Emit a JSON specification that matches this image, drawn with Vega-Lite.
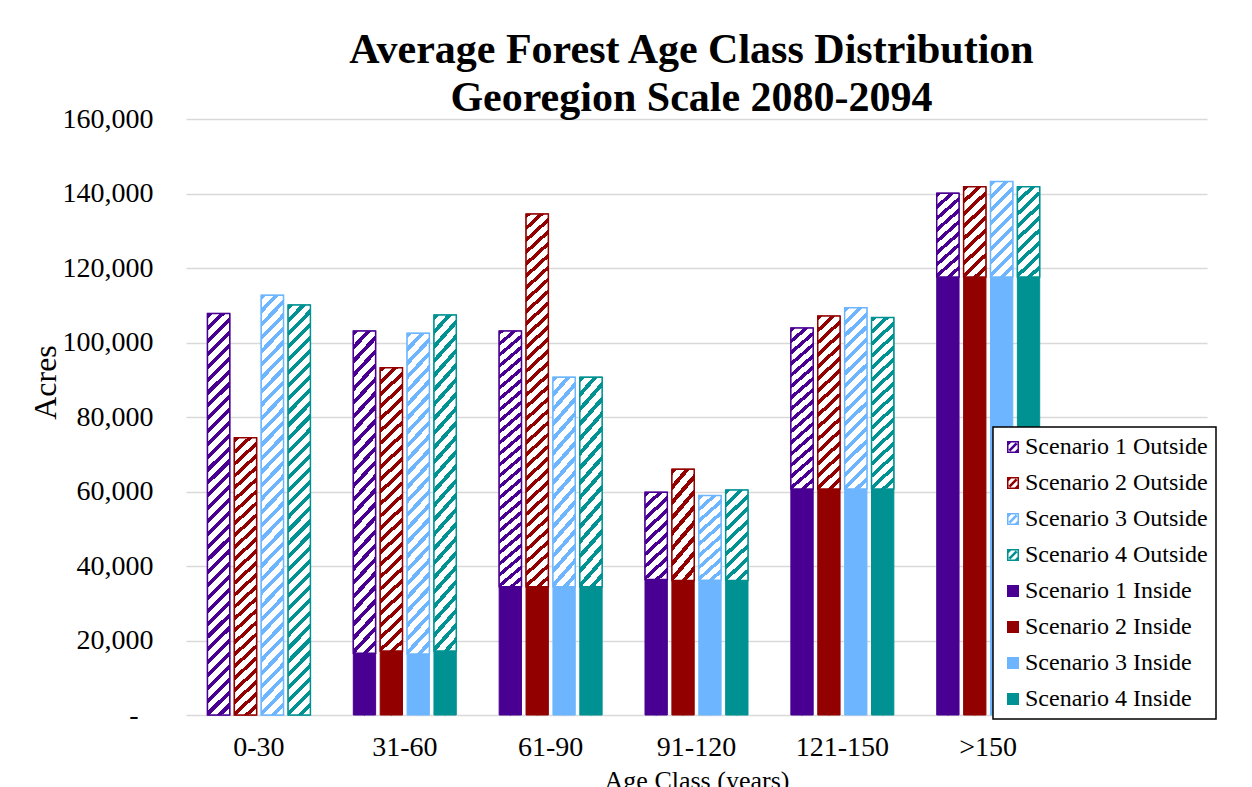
{
"$schema": "https://vega.github.io/schema/vega-lite/v6.json",
"autosize": "none",
"width": 1021,
"height": 596,
"padding": {"left": 186, "top": 119, "right": 45, "bottom": 72},
"background": "white",
"title": {"text": ["Average Forest Age Class Distribution", "Georegion Scale 2080-2094"], "font": "Liberation Serif", "fontSize": 42, "fontWeight": "bold", "lineHeight": 48, "color": "#000", "anchor": "middle", "frame": "group", "baseline": "alphabetic", "offset": 10, "dx": -5, "dy": 58},
"data": {"values": [
{"age": "0-30", "scenario": "Scenario 1", "part": "Outside", "series": "Scenario 1 Outside", "acres": 107800},
{"age": "0-30", "scenario": "Scenario 2", "part": "Outside", "series": "Scenario 2 Outside", "acres": 74400},
{"age": "0-30", "scenario": "Scenario 3", "part": "Outside", "series": "Scenario 3 Outside", "acres": 112700},
{"age": "0-30", "scenario": "Scenario 4", "part": "Outside", "series": "Scenario 4 Outside", "acres": 110100},
{"age": "31-60", "scenario": "Scenario 1", "part": "Inside", "series": "Scenario 1 Inside", "acres": 16600},
{"age": "31-60", "scenario": "Scenario 2", "part": "Inside", "series": "Scenario 2 Inside", "acres": 17200},
{"age": "31-60", "scenario": "Scenario 3", "part": "Inside", "series": "Scenario 3 Inside", "acres": 16400},
{"age": "31-60", "scenario": "Scenario 4", "part": "Inside", "series": "Scenario 4 Inside", "acres": 17200},
{"age": "31-60", "scenario": "Scenario 1", "part": "Outside", "series": "Scenario 1 Outside", "acres": 86500},
{"age": "31-60", "scenario": "Scenario 2", "part": "Outside", "series": "Scenario 2 Outside", "acres": 76000},
{"age": "31-60", "scenario": "Scenario 3", "part": "Outside", "series": "Scenario 3 Outside", "acres": 86100},
{"age": "31-60", "scenario": "Scenario 4", "part": "Outside", "series": "Scenario 4 Outside", "acres": 90200},
{"age": "61-90", "scenario": "Scenario 1", "part": "Inside", "series": "Scenario 1 Inside", "acres": 34400},
{"age": "61-90", "scenario": "Scenario 2", "part": "Inside", "series": "Scenario 2 Inside", "acres": 34400},
{"age": "61-90", "scenario": "Scenario 3", "part": "Inside", "series": "Scenario 3 Inside", "acres": 34400},
{"age": "61-90", "scenario": "Scenario 4", "part": "Inside", "series": "Scenario 4 Inside", "acres": 34400},
{"age": "61-90", "scenario": "Scenario 1", "part": "Outside", "series": "Scenario 1 Outside", "acres": 68700},
{"age": "61-90", "scenario": "Scenario 2", "part": "Outside", "series": "Scenario 2 Outside", "acres": 100100},
{"age": "61-90", "scenario": "Scenario 3", "part": "Outside", "series": "Scenario 3 Outside", "acres": 56300},
{"age": "61-90", "scenario": "Scenario 4", "part": "Outside", "series": "Scenario 4 Outside", "acres": 56300},
{"age": "91-120", "scenario": "Scenario 1", "part": "Inside", "series": "Scenario 1 Inside", "acres": 36400},
{"age": "91-120", "scenario": "Scenario 2", "part": "Inside", "series": "Scenario 2 Inside", "acres": 36100},
{"age": "91-120", "scenario": "Scenario 3", "part": "Inside", "series": "Scenario 3 Inside", "acres": 36200},
{"age": "91-120", "scenario": "Scenario 4", "part": "Inside", "series": "Scenario 4 Inside", "acres": 36100},
{"age": "91-120", "scenario": "Scenario 1", "part": "Outside", "series": "Scenario 1 Outside", "acres": 23400},
{"age": "91-120", "scenario": "Scenario 2", "part": "Outside", "series": "Scenario 2 Outside", "acres": 29900},
{"age": "91-120", "scenario": "Scenario 3", "part": "Outside", "series": "Scenario 3 Outside", "acres": 22700},
{"age": "91-120", "scenario": "Scenario 4", "part": "Outside", "series": "Scenario 4 Outside", "acres": 24300},
{"age": "121-150", "scenario": "Scenario 1", "part": "Inside", "series": "Scenario 1 Inside", "acres": 60700},
{"age": "121-150", "scenario": "Scenario 2", "part": "Inside", "series": "Scenario 2 Inside", "acres": 60700},
{"age": "121-150", "scenario": "Scenario 3", "part": "Inside", "series": "Scenario 3 Inside", "acres": 60700},
{"age": "121-150", "scenario": "Scenario 4", "part": "Inside", "series": "Scenario 4 Inside", "acres": 60700},
{"age": "121-150", "scenario": "Scenario 1", "part": "Outside", "series": "Scenario 1 Outside", "acres": 43200},
{"age": "121-150", "scenario": "Scenario 2", "part": "Outside", "series": "Scenario 2 Outside", "acres": 46400},
{"age": "121-150", "scenario": "Scenario 3", "part": "Outside", "series": "Scenario 3 Outside", "acres": 48600},
{"age": "121-150", "scenario": "Scenario 4", "part": "Outside", "series": "Scenario 4 Outside", "acres": 46000},
{"age": ">150", "scenario": "Scenario 1", "part": "Inside", "series": "Scenario 1 Inside", "acres": 117600},
{"age": ">150", "scenario": "Scenario 2", "part": "Inside", "series": "Scenario 2 Inside", "acres": 117600},
{"age": ">150", "scenario": "Scenario 3", "part": "Inside", "series": "Scenario 3 Inside", "acres": 117600},
{"age": ">150", "scenario": "Scenario 4", "part": "Inside", "series": "Scenario 4 Inside", "acres": 117600},
{"age": ">150", "scenario": "Scenario 1", "part": "Outside", "series": "Scenario 1 Outside", "acres": 22500},
{"age": ">150", "scenario": "Scenario 2", "part": "Outside", "series": "Scenario 2 Outside", "acres": 24200},
{"age": ">150", "scenario": "Scenario 3", "part": "Outside", "series": "Scenario 3 Outside", "acres": 25600},
{"age": ">150", "scenario": "Scenario 4", "part": "Outside", "series": "Scenario 4 Outside", "acres": 24200}
]},
"transform": [
{"stack": "acres", "groupby": ["age", "scenario"], "sort": [{"field": "part", "order": "ascending"}], "as": ["y0", "y1"]}
],
"encoding": {
"x": {"field": "age", "type": "nominal", "sort": null,
 "scale": {"domain": ["0-30", "31-60", "61-90", "91-120", "121-150", ">150", ""], "paddingInner": 0.294, "paddingOuter": 0.147},
 "axis": {"title": "Age Class (years)", "labelAngle": 0, "ticks": false, "domain": false, "grid": false, "labelFont": "Liberation Serif", "labelFontSize": 28, "labelColor": "#000", "labelPadding": 18, "titleFont": "Liberation Serif", "titleFontSize": 26, "titleFontWeight": "normal", "titleColor": "#000", "titlePadding": 6}},
"xOffset": {"field": "scenario", "type": "nominal", "scale": {"domain": ["Scenario 1", "Scenario 2", "Scenario 3", "Scenario 4"], "paddingInner": 0.17, "paddingOuter": 0}},
"y": {"field": "y0", "type": "quantitative",
 "scale": {"domain": [0, 160000], "nice": false},
 "axis": {"title": "Acres", "values": [0, 20000, 40000, 60000, 80000, 100000, 120000, 140000, 160000], "labelExpr": "datum.value === 0 ? '-' : format(datum.value, ',')", "ticks": false, "domain": false, "grid": true, "gridColor": "#d9d9d9", "gridWidth": 1.5, "labelFont": "Liberation Serif", "labelFontSize": 28, "labelColor": "#000", "labelPadding": {"condition": {"test": "datum.value === 0", "value": 48}, "value": 33}, "titleFont": "Liberation Serif", "titleFontSize": 32, "titleFontWeight": "normal", "titleColor": "#000", "titleAngle": 270, "titleAlign": "center", "titleBaseline": "alphabetic", "titleX": -131, "titleY": 263}}
},
"layer": [
{"mark": {"type": "point", "filled": true, "size": 1, "opacity": 1, "strokeWidth": 0},
 "encoding": {
  "color": {"field": "series", "type": "nominal", "legend": {"title": null}},
  "shape": {"field": "series", "type": "nominal",
   "scale": {"domain": ["Scenario 1 Outside", "Scenario 2 Outside", "Scenario 3 Outside", "Scenario 4 Outside", "Scenario 1 Inside", "Scenario 2 Inside", "Scenario 3 Inside", "Scenario 4 Inside"],
    "range": ["M-1,-1H1V1H-1Z M-0.75,-0.75V0.75H0.75V-0.75Z M-0.75,0.45L0.45,-0.75L0.75,-0.45L-0.45,0.75Z M-0.75,-0.75L-0.3,-0.75L-0.75,-0.3Z M0.75,0.75L0.3,0.75L0.75,0.3Z",
     "M-1,-1H1V1H-1Z M-0.75,-0.75V0.75H0.75V-0.75Z M-0.75,0.45L0.45,-0.75L0.75,-0.45L-0.45,0.75Z M-0.75,-0.75L-0.3,-0.75L-0.75,-0.3Z M0.75,0.75L0.3,0.75L0.75,0.3Z",
     "M-1,-1H1V1H-1Z M-0.75,-0.75V0.75H0.75V-0.75Z M-0.75,0.45L0.45,-0.75L0.75,-0.45L-0.45,0.75Z M-0.75,-0.75L-0.3,-0.75L-0.75,-0.3Z M0.75,0.75L0.3,0.75L0.75,0.3Z",
     "M-1,-1H1V1H-1Z M-0.75,-0.75V0.75H0.75V-0.75Z M-0.75,0.45L0.45,-0.75L0.75,-0.45L-0.45,0.75Z M-0.75,-0.75L-0.3,-0.75L-0.75,-0.3Z M0.75,0.75L0.3,0.75L0.75,0.3Z",
     "square", "square", "square", "square"]},
   "legend": {"title": null}}
 }},
{"mark": {"type": "bar", "strokeWidth": 1},
 "encoding": {
  "y2": {"field": "y1"},
  "color": {"field": "series", "type": "nominal",
   "scale": {"domain": ["Scenario 1 Outside", "Scenario 2 Outside", "Scenario 3 Outside", "Scenario 4 Outside", "Scenario 1 Inside", "Scenario 2 Inside", "Scenario 3 Inside", "Scenario 4 Inside"],
    "range": ["#490092", "#920000", "#6db6ff", "#009292", "#490092", "#920000", "#6db6ff", "#009292"]},
   "legend": {"title": null}},
  "stroke": {"field": "series", "type": "nominal",
   "scale": {"domain": ["Scenario 1 Outside", "Scenario 2 Outside", "Scenario 3 Outside", "Scenario 4 Outside", "Scenario 1 Inside", "Scenario 2 Inside", "Scenario 3 Inside", "Scenario 4 Inside"],
    "range": ["#490092", "#920000", "#6db6ff", "#009292", "#490092", "#920000", "#6db6ff", "#009292"]},
   "legend": {"title": null}}
 }},
{"transform": [{"filter": "datum.part === 'Outside' && datum.acres < 35000"}],
 "mark": {"type": "bar", "strokeWidth": 1.5, "fill": {"gradient": "linear", "x1": 0, "y1": 0, "x2": 0.2747, "y2": 1.1703, "stops": [
{"offset":0,"color":"rgba(255,255,255,0)"},{"offset":0.0444,"color":"rgba(255,255,255,0)"},{"offset":0.0444,"color":"#fff"},{"offset":0.1111,"color":"#fff"},
{"offset":0.1111,"color":"rgba(255,255,255,0)"},{"offset":0.1556,"color":"rgba(255,255,255,0)"},{"offset":0.1556,"color":"#fff"},{"offset":0.2222,"color":"#fff"},
{"offset":0.2222,"color":"rgba(255,255,255,0)"},{"offset":0.2667,"color":"rgba(255,255,255,0)"},{"offset":0.2667,"color":"#fff"},{"offset":0.3333,"color":"#fff"},
{"offset":0.3333,"color":"rgba(255,255,255,0)"},{"offset":0.3778,"color":"rgba(255,255,255,0)"},{"offset":0.3778,"color":"#fff"},{"offset":0.4444,"color":"#fff"},
{"offset":0.4444,"color":"rgba(255,255,255,0)"},{"offset":0.4889,"color":"rgba(255,255,255,0)"},{"offset":0.4889,"color":"#fff"},{"offset":0.5556,"color":"#fff"},
{"offset":0.5556,"color":"rgba(255,255,255,0)"},{"offset":0.6,"color":"rgba(255,255,255,0)"},{"offset":0.6,"color":"#fff"},{"offset":0.6667,"color":"#fff"},
{"offset":0.6667,"color":"rgba(255,255,255,0)"},{"offset":0.7111,"color":"rgba(255,255,255,0)"},{"offset":0.7111,"color":"#fff"},{"offset":0.7778,"color":"#fff"},
{"offset":0.7778,"color":"rgba(255,255,255,0)"},{"offset":0.8222,"color":"rgba(255,255,255,0)"},{"offset":0.8222,"color":"#fff"},{"offset":0.8889,"color":"#fff"},
{"offset":0.8889,"color":"rgba(255,255,255,0)"},{"offset":0.9333,"color":"rgba(255,255,255,0)"},{"offset":0.9333,"color":"#fff"},{"offset":1,"color":"#fff"}]}},
 "encoding": {"y2": {"field": "y1"}, "stroke": {"field": "series", "type": "nominal", "legend": {"title": null}}}},
{"transform": [{"filter": "datum.part === 'Outside' && datum.acres >= 35000 && datum.acres < 62000"}],
 "mark": {"type": "bar", "strokeWidth": 1.5, "fill": {"gradient": "linear", "x1": 0, "y1": 0, "x2": 0.1331, "y2": 1.1045, "stops": [
{"offset":0,"color":"rgba(255,255,255,0)"},{"offset":0.025,"color":"rgba(255,255,255,0)"},{"offset":0.025,"color":"#fff"},{"offset":0.0625,"color":"#fff"},
{"offset":0.0625,"color":"rgba(255,255,255,0)"},{"offset":0.0875,"color":"rgba(255,255,255,0)"},{"offset":0.0875,"color":"#fff"},{"offset":0.125,"color":"#fff"},
{"offset":0.125,"color":"rgba(255,255,255,0)"},{"offset":0.15,"color":"rgba(255,255,255,0)"},{"offset":0.15,"color":"#fff"},{"offset":0.1875,"color":"#fff"},
{"offset":0.1875,"color":"rgba(255,255,255,0)"},{"offset":0.2125,"color":"rgba(255,255,255,0)"},{"offset":0.2125,"color":"#fff"},{"offset":0.25,"color":"#fff"},
{"offset":0.25,"color":"rgba(255,255,255,0)"},{"offset":0.275,"color":"rgba(255,255,255,0)"},{"offset":0.275,"color":"#fff"},{"offset":0.3125,"color":"#fff"},
{"offset":0.3125,"color":"rgba(255,255,255,0)"},{"offset":0.3375,"color":"rgba(255,255,255,0)"},{"offset":0.3375,"color":"#fff"},{"offset":0.375,"color":"#fff"},
{"offset":0.375,"color":"rgba(255,255,255,0)"},{"offset":0.4,"color":"rgba(255,255,255,0)"},{"offset":0.4,"color":"#fff"},{"offset":0.4375,"color":"#fff"},
{"offset":0.4375,"color":"rgba(255,255,255,0)"},{"offset":0.4625,"color":"rgba(255,255,255,0)"},{"offset":0.4625,"color":"#fff"},{"offset":0.5,"color":"#fff"},
{"offset":0.5,"color":"rgba(255,255,255,0)"},{"offset":0.525,"color":"rgba(255,255,255,0)"},{"offset":0.525,"color":"#fff"},{"offset":0.5625,"color":"#fff"},
{"offset":0.5625,"color":"rgba(255,255,255,0)"},{"offset":0.5875,"color":"rgba(255,255,255,0)"},{"offset":0.5875,"color":"#fff"},{"offset":0.625,"color":"#fff"},
{"offset":0.625,"color":"rgba(255,255,255,0)"},{"offset":0.65,"color":"rgba(255,255,255,0)"},{"offset":0.65,"color":"#fff"},{"offset":0.6875,"color":"#fff"},
{"offset":0.6875,"color":"rgba(255,255,255,0)"},{"offset":0.7125,"color":"rgba(255,255,255,0)"},{"offset":0.7125,"color":"#fff"},{"offset":0.75,"color":"#fff"},
{"offset":0.75,"color":"rgba(255,255,255,0)"},{"offset":0.775,"color":"rgba(255,255,255,0)"},{"offset":0.775,"color":"#fff"},{"offset":0.8125,"color":"#fff"},
{"offset":0.8125,"color":"rgba(255,255,255,0)"},{"offset":0.8375,"color":"rgba(255,255,255,0)"},{"offset":0.8375,"color":"#fff"},{"offset":0.875,"color":"#fff"},
{"offset":0.875,"color":"rgba(255,255,255,0)"},{"offset":0.9,"color":"rgba(255,255,255,0)"},{"offset":0.9,"color":"#fff"},{"offset":0.9375,"color":"#fff"},
{"offset":0.9375,"color":"rgba(255,255,255,0)"},{"offset":0.9625,"color":"rgba(255,255,255,0)"},{"offset":0.9625,"color":"#fff"},{"offset":1,"color":"#fff"}]}},
 "encoding": {"y2": {"field": "y1"}, "stroke": {"field": "series", "type": "nominal", "legend": {"title": null}}}},
{"transform": [{"filter": "datum.part === 'Outside' && datum.acres >= 62000 && datum.acres < 95000"}],
 "mark": {"type": "bar", "strokeWidth": 1.5, "fill": {"gradient": "linear", "x1": 0, "y1": 0, "x2": 0.0794, "y2": 1.0684, "stops": [
{"offset":0,"color":"rgba(255,255,255,0)"},{"offset":0.016,"color":"rgba(255,255,255,0)"},{"offset":0.016,"color":"#fff"},{"offset":0.04,"color":"#fff"},
{"offset":0.04,"color":"rgba(255,255,255,0)"},{"offset":0.056,"color":"rgba(255,255,255,0)"},{"offset":0.056,"color":"#fff"},{"offset":0.08,"color":"#fff"},
{"offset":0.08,"color":"rgba(255,255,255,0)"},{"offset":0.096,"color":"rgba(255,255,255,0)"},{"offset":0.096,"color":"#fff"},{"offset":0.12,"color":"#fff"},
{"offset":0.12,"color":"rgba(255,255,255,0)"},{"offset":0.136,"color":"rgba(255,255,255,0)"},{"offset":0.136,"color":"#fff"},{"offset":0.16,"color":"#fff"},
{"offset":0.16,"color":"rgba(255,255,255,0)"},{"offset":0.176,"color":"rgba(255,255,255,0)"},{"offset":0.176,"color":"#fff"},{"offset":0.2,"color":"#fff"},
{"offset":0.2,"color":"rgba(255,255,255,0)"},{"offset":0.216,"color":"rgba(255,255,255,0)"},{"offset":0.216,"color":"#fff"},{"offset":0.24,"color":"#fff"},
{"offset":0.24,"color":"rgba(255,255,255,0)"},{"offset":0.256,"color":"rgba(255,255,255,0)"},{"offset":0.256,"color":"#fff"},{"offset":0.28,"color":"#fff"},
{"offset":0.28,"color":"rgba(255,255,255,0)"},{"offset":0.296,"color":"rgba(255,255,255,0)"},{"offset":0.296,"color":"#fff"},{"offset":0.32,"color":"#fff"},
{"offset":0.32,"color":"rgba(255,255,255,0)"},{"offset":0.336,"color":"rgba(255,255,255,0)"},{"offset":0.336,"color":"#fff"},{"offset":0.36,"color":"#fff"},
{"offset":0.36,"color":"rgba(255,255,255,0)"},{"offset":0.376,"color":"rgba(255,255,255,0)"},{"offset":0.376,"color":"#fff"},{"offset":0.4,"color":"#fff"},
{"offset":0.4,"color":"rgba(255,255,255,0)"},{"offset":0.416,"color":"rgba(255,255,255,0)"},{"offset":0.416,"color":"#fff"},{"offset":0.44,"color":"#fff"},
{"offset":0.44,"color":"rgba(255,255,255,0)"},{"offset":0.456,"color":"rgba(255,255,255,0)"},{"offset":0.456,"color":"#fff"},{"offset":0.48,"color":"#fff"},
{"offset":0.48,"color":"rgba(255,255,255,0)"},{"offset":0.496,"color":"rgba(255,255,255,0)"},{"offset":0.496,"color":"#fff"},{"offset":0.52,"color":"#fff"},
{"offset":0.52,"color":"rgba(255,255,255,0)"},{"offset":0.536,"color":"rgba(255,255,255,0)"},{"offset":0.536,"color":"#fff"},{"offset":0.56,"color":"#fff"},
{"offset":0.56,"color":"rgba(255,255,255,0)"},{"offset":0.576,"color":"rgba(255,255,255,0)"},{"offset":0.576,"color":"#fff"},{"offset":0.6,"color":"#fff"},
{"offset":0.6,"color":"rgba(255,255,255,0)"},{"offset":0.616,"color":"rgba(255,255,255,0)"},{"offset":0.616,"color":"#fff"},{"offset":0.64,"color":"#fff"},
{"offset":0.64,"color":"rgba(255,255,255,0)"},{"offset":0.656,"color":"rgba(255,255,255,0)"},{"offset":0.656,"color":"#fff"},{"offset":0.68,"color":"#fff"},
{"offset":0.68,"color":"rgba(255,255,255,0)"},{"offset":0.696,"color":"rgba(255,255,255,0)"},{"offset":0.696,"color":"#fff"},{"offset":0.72,"color":"#fff"},
{"offset":0.72,"color":"rgba(255,255,255,0)"},{"offset":0.736,"color":"rgba(255,255,255,0)"},{"offset":0.736,"color":"#fff"},{"offset":0.76,"color":"#fff"},
{"offset":0.76,"color":"rgba(255,255,255,0)"},{"offset":0.776,"color":"rgba(255,255,255,0)"},{"offset":0.776,"color":"#fff"},{"offset":0.8,"color":"#fff"},
{"offset":0.8,"color":"rgba(255,255,255,0)"},{"offset":0.816,"color":"rgba(255,255,255,0)"},{"offset":0.816,"color":"#fff"},{"offset":0.84,"color":"#fff"},
{"offset":0.84,"color":"rgba(255,255,255,0)"},{"offset":0.856,"color":"rgba(255,255,255,0)"},{"offset":0.856,"color":"#fff"},{"offset":0.88,"color":"#fff"},
{"offset":0.88,"color":"rgba(255,255,255,0)"},{"offset":0.896,"color":"rgba(255,255,255,0)"},{"offset":0.896,"color":"#fff"},{"offset":0.92,"color":"#fff"},
{"offset":0.92,"color":"rgba(255,255,255,0)"},{"offset":0.936,"color":"rgba(255,255,255,0)"},{"offset":0.936,"color":"#fff"},{"offset":0.96,"color":"#fff"},
{"offset":0.96,"color":"rgba(255,255,255,0)"},{"offset":0.976,"color":"rgba(255,255,255,0)"},{"offset":0.976,"color":"#fff"},{"offset":1,"color":"#fff"}]}},
 "encoding": {"y2": {"field": "y1"}, "stroke": {"field": "series", "type": "nominal", "legend": {"title": null}}}},
{"transform": [{"filter": "datum.part === 'Outside' && datum.acres >= 95000"}],
 "mark": {"type": "bar", "strokeWidth": 1.5, "fill": {"gradient": "linear", "x1": 0, "y1": 0, "x2": 0.0579, "y2": 1.0519, "stops": [
{"offset":0,"color":"rgba(255,255,255,0)"},{"offset":0.0121,"color":"rgba(255,255,255,0)"},{"offset":0.0121,"color":"#fff"},{"offset":0.0303,"color":"#fff"},
{"offset":0.0303,"color":"rgba(255,255,255,0)"},{"offset":0.0424,"color":"rgba(255,255,255,0)"},{"offset":0.0424,"color":"#fff"},{"offset":0.0606,"color":"#fff"},
{"offset":0.0606,"color":"rgba(255,255,255,0)"},{"offset":0.0727,"color":"rgba(255,255,255,0)"},{"offset":0.0727,"color":"#fff"},{"offset":0.0909,"color":"#fff"},
{"offset":0.0909,"color":"rgba(255,255,255,0)"},{"offset":0.103,"color":"rgba(255,255,255,0)"},{"offset":0.103,"color":"#fff"},{"offset":0.1212,"color":"#fff"},
{"offset":0.1212,"color":"rgba(255,255,255,0)"},{"offset":0.1333,"color":"rgba(255,255,255,0)"},{"offset":0.1333,"color":"#fff"},{"offset":0.1515,"color":"#fff"},
{"offset":0.1515,"color":"rgba(255,255,255,0)"},{"offset":0.1636,"color":"rgba(255,255,255,0)"},{"offset":0.1636,"color":"#fff"},{"offset":0.1818,"color":"#fff"},
{"offset":0.1818,"color":"rgba(255,255,255,0)"},{"offset":0.1939,"color":"rgba(255,255,255,0)"},{"offset":0.1939,"color":"#fff"},{"offset":0.2121,"color":"#fff"},
{"offset":0.2121,"color":"rgba(255,255,255,0)"},{"offset":0.2242,"color":"rgba(255,255,255,0)"},{"offset":0.2242,"color":"#fff"},{"offset":0.2424,"color":"#fff"},
{"offset":0.2424,"color":"rgba(255,255,255,0)"},{"offset":0.2545,"color":"rgba(255,255,255,0)"},{"offset":0.2545,"color":"#fff"},{"offset":0.2727,"color":"#fff"},
{"offset":0.2727,"color":"rgba(255,255,255,0)"},{"offset":0.2848,"color":"rgba(255,255,255,0)"},{"offset":0.2848,"color":"#fff"},{"offset":0.303,"color":"#fff"},
{"offset":0.303,"color":"rgba(255,255,255,0)"},{"offset":0.3152,"color":"rgba(255,255,255,0)"},{"offset":0.3152,"color":"#fff"},{"offset":0.3333,"color":"#fff"},
{"offset":0.3333,"color":"rgba(255,255,255,0)"},{"offset":0.3455,"color":"rgba(255,255,255,0)"},{"offset":0.3455,"color":"#fff"},{"offset":0.3636,"color":"#fff"},
{"offset":0.3636,"color":"rgba(255,255,255,0)"},{"offset":0.3758,"color":"rgba(255,255,255,0)"},{"offset":0.3758,"color":"#fff"},{"offset":0.3939,"color":"#fff"},
{"offset":0.3939,"color":"rgba(255,255,255,0)"},{"offset":0.4061,"color":"rgba(255,255,255,0)"},{"offset":0.4061,"color":"#fff"},{"offset":0.4242,"color":"#fff"},
{"offset":0.4242,"color":"rgba(255,255,255,0)"},{"offset":0.4364,"color":"rgba(255,255,255,0)"},{"offset":0.4364,"color":"#fff"},{"offset":0.4545,"color":"#fff"},
{"offset":0.4545,"color":"rgba(255,255,255,0)"},{"offset":0.4667,"color":"rgba(255,255,255,0)"},{"offset":0.4667,"color":"#fff"},{"offset":0.4848,"color":"#fff"},
{"offset":0.4848,"color":"rgba(255,255,255,0)"},{"offset":0.497,"color":"rgba(255,255,255,0)"},{"offset":0.497,"color":"#fff"},{"offset":0.5152,"color":"#fff"},
{"offset":0.5152,"color":"rgba(255,255,255,0)"},{"offset":0.5273,"color":"rgba(255,255,255,0)"},{"offset":0.5273,"color":"#fff"},{"offset":0.5455,"color":"#fff"},
{"offset":0.5455,"color":"rgba(255,255,255,0)"},{"offset":0.5576,"color":"rgba(255,255,255,0)"},{"offset":0.5576,"color":"#fff"},{"offset":0.5758,"color":"#fff"},
{"offset":0.5758,"color":"rgba(255,255,255,0)"},{"offset":0.5879,"color":"rgba(255,255,255,0)"},{"offset":0.5879,"color":"#fff"},{"offset":0.6061,"color":"#fff"},
{"offset":0.6061,"color":"rgba(255,255,255,0)"},{"offset":0.6182,"color":"rgba(255,255,255,0)"},{"offset":0.6182,"color":"#fff"},{"offset":0.6364,"color":"#fff"},
{"offset":0.6364,"color":"rgba(255,255,255,0)"},{"offset":0.6485,"color":"rgba(255,255,255,0)"},{"offset":0.6485,"color":"#fff"},{"offset":0.6667,"color":"#fff"},
{"offset":0.6667,"color":"rgba(255,255,255,0)"},{"offset":0.6788,"color":"rgba(255,255,255,0)"},{"offset":0.6788,"color":"#fff"},{"offset":0.697,"color":"#fff"},
{"offset":0.697,"color":"rgba(255,255,255,0)"},{"offset":0.7091,"color":"rgba(255,255,255,0)"},{"offset":0.7091,"color":"#fff"},{"offset":0.7273,"color":"#fff"},
{"offset":0.7273,"color":"rgba(255,255,255,0)"},{"offset":0.7394,"color":"rgba(255,255,255,0)"},{"offset":0.7394,"color":"#fff"},{"offset":0.7576,"color":"#fff"},
{"offset":0.7576,"color":"rgba(255,255,255,0)"},{"offset":0.7697,"color":"rgba(255,255,255,0)"},{"offset":0.7697,"color":"#fff"},{"offset":0.7879,"color":"#fff"},
{"offset":0.7879,"color":"rgba(255,255,255,0)"},{"offset":0.8,"color":"rgba(255,255,255,0)"},{"offset":0.8,"color":"#fff"},{"offset":0.8182,"color":"#fff"},
{"offset":0.8182,"color":"rgba(255,255,255,0)"},{"offset":0.8303,"color":"rgba(255,255,255,0)"},{"offset":0.8303,"color":"#fff"},{"offset":0.8485,"color":"#fff"},
{"offset":0.8485,"color":"rgba(255,255,255,0)"},{"offset":0.8606,"color":"rgba(255,255,255,0)"},{"offset":0.8606,"color":"#fff"},{"offset":0.8788,"color":"#fff"},
{"offset":0.8788,"color":"rgba(255,255,255,0)"},{"offset":0.8909,"color":"rgba(255,255,255,0)"},{"offset":0.8909,"color":"#fff"},{"offset":0.9091,"color":"#fff"},
{"offset":0.9091,"color":"rgba(255,255,255,0)"},{"offset":0.9212,"color":"rgba(255,255,255,0)"},{"offset":0.9212,"color":"#fff"},{"offset":0.9394,"color":"#fff"},
{"offset":0.9394,"color":"rgba(255,255,255,0)"},{"offset":0.9515,"color":"rgba(255,255,255,0)"},{"offset":0.9515,"color":"#fff"},{"offset":0.9697,"color":"#fff"},
{"offset":0.9697,"color":"rgba(255,255,255,0)"},{"offset":0.9818,"color":"rgba(255,255,255,0)"},{"offset":0.9818,"color":"#fff"},{"offset":1,"color":"#fff"}]}},
 "encoding": {"y2": {"field": "y1"}, "stroke": {"field": "series", "type": "nominal", "legend": {"title": null}}}}
],
"config": {
 "view": {"stroke": null},
 "legend": {"orient": "none", "legendX": 807, "legendY": 308, "strokeColor": "#000", "strokeWidth": 1.5, "fillColor": "#fff", "padding": 8, "labelFont": "Liberation Serif", "labelFontSize": 24, "labelColor": "#000", "symbolSize": 144, "symbolStrokeWidth": 0, "rowPadding": 12, "labelOffset": 0, "symbolOffset": 0, "labelLimit": 400}
}
}
